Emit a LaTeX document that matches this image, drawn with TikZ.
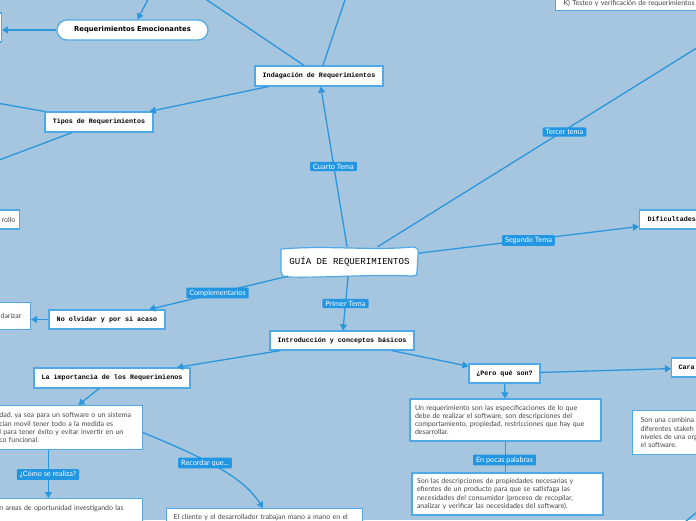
\documentclass[tikz,border=0pt]{standalone}
\usepackage{fontspec}
\setmainfont{Lato}
\setsansfont{Lato}
\setmonofont{Liberation Mono}
\newfontfamily\verdana{DejaVu Sans}
\usetikzlibrary{arrows.meta}
\definecolor{fond}{HTML}{A6C5DE}
\definecolor{trait}{HTML}{2A97DC}
\definecolor{bord}{HTML}{4EA9E6}
\definecolor{etiq}{HTML}{2196E2}
\definecolor{encre}{HTML}{444444}

\begin{document}
\begin{tikzpicture}[x=1pt, y=-1pt,
    lien/.style={draw=trait, line width=1.3pt},
    fleche/.style={lien, -{Triangle[length=6pt,width=7pt]}},
    boite/.style={draw=bord, fill=white, line width=1.2pt, text=black,
        font=\fontsize{6.7}{8}\selectfont\ttfamily\bfseries},
    texte/.style={boite, text=encre, align=left, inner ysep=4pt,
        font=\fontsize{7}{8.2}\selectfont\sffamily},
    etiquette/.style={fill=etiq, text=white, rounded corners=1pt, inner xsep=3pt, inner ysep=2pt,
        font=\fontsize{7.3}{8}\selectfont\sffamily}]

    % Cadre et fond
    \useasboundingbox (0,0) rectangle (696,520);
    \clip (0,0) rectangle (696,520);
    \fill[fond] (0,0) rectangle (696,520);

    % Forme du noeud central
    \draw[draw=bord, fill=white, line width=1.2pt]
        (281,249) .. controls (330,245) and (370,251) .. (412,247)
                  .. controls (418,247) and (419,250) .. (418,256) -- (417,272)
                  .. controls (417,276) and (415,276) .. (412,276)
                  .. controls (370,274) and (330,278) .. (288,277)
                  .. controls (283,277) and (281,275) .. (281,272) -- cycle;
    \node[minimum width=137pt, minimum height=29pt, font=\fontsize{9.1}{11}\selectfont\ttfamily] (guia) at (349.5,261.5) {GUÍA DE REQUERIMIENTOS};

    % Branche du haut
    \node[boite, rounded corners=10pt, minimum width=151pt, minimum height=20pt,
        font=\fontsize{6.8}{8}\selectfont\verdana\bfseries] (emocion) at (132.5,30) {Requerimientos Emocionantes};
    \node[boite, anchor=east, minimum width=40pt, minimum height=29pt] (gaucheHaut) at (2,27.5) {};
    \node[boite, minimum width=128pt, minimum height=20pt] (indag) at (319,76) {Indagación de Requerimientos};
    \node[boite, minimum width=108pt, minimum height=20pt] (tipos) at (99,122) {Tipos de Requerimientos};
    \node[texte, anchor=east, text width=70pt, align=right, inner xsep=4pt, minimum height=19pt] (rollo) at (20,219.5) {rollo};
    \node[texte, anchor=south west, text width=150pt, inner xsep=8pt] (testeo) at (555,11) {K) Testeo y verificación de requerimientos};
    \node[boite, anchor=west, text width=60pt, align=left, inner xsep=8pt, minimum height=19pt] (dific) at (639,219.5) {Dificultades};

    % Branche de gauche
    \node[boite, minimum width=116pt, minimum height=19pt] (noolv) at (107,319.5) {No olvidar y por si acaso};
    \node[texte, anchor=north east, text width=60pt, align=right, inner xsep=9pt, minimum height=27pt] (standar) at (31,302) {darizar};

    % Branche du bas
    \node[boite, minimum width=144pt, minimum height=19pt] (intro) at (342,340.5) {Introducción y conceptos básicos};
    \node[boite, minimum width=156pt, minimum height=20pt] (import) at (112,378) {La importancia de los Requerimienos};
    \node[texte, anchor=north east, text width=140pt, inner xsep=3pt, minimum height=44pt] (textImp) at (143,405)
        {dad, ya sea para un software o un sistema\\cian movil tener todo a la medida es\\l para tener éxito y evitar invertir en un\\co funcional.};
    \node[texte, anchor=north east, text width=140pt, inner xsep=3pt, inner ysep=7pt, text depth=22pt] (areas) at (143,498)
        {n areas de oportunidad investigando las};
    \node[texte, anchor=north west, text width=182pt, inner xsep=7pt, inner ysep=6pt, text depth=25pt] (cliente) at (166,508)
        {El cliente y el desarrollador trabajan mano a mano en el};
    \node[boite, minimum width=71pt, minimum height=19pt] (pero) at (504.5,373.5) {¿Pero qué son?};
    \node[boite, anchor=west, text width=60pt, align=left, inner xsep=7pt, minimum height=19pt] (cara) at (671,367.5) {Cara};
    \node[texte, text width=181pt, inner xsep=5pt, minimum height=42pt] (defin) at (505.5,420)
        {Un requerimiento son las especificaciones de lo que\\debe de realizar el software, son descripciones del\\comportamiento, propiedad, restricciones que hay que\\desarrollar.};
    \node[texte, text width=181pt, inner xsep=5pt, minimum height=42pt] (resume) at (507.5,494)
        {Son las descripciones de propiedades necesarias y\\efientes de un producto para que se satisfaga las\\necesidades del consumidor (proceso de recopilar,\\analizar y verificar las necesidades del software).};
    \node[texte, anchor=north west, text width=100pt, inner xsep=8pt, minimum height=44pt] (combin) at (632,410)
        {Son una combina\\diferentes stakeh\\niveles de una org\\el software.};

    % Extremites hors cadre
    \coordinate (hautA) at (158,-33);
    \coordinate (hautB) at (356,-33);
    \coordinate (hautC) at (154,-12);
    \coordinate (tipoA) at (-43,96);
    \coordinate (tipoB) at (-30,171);
    \coordinate (tercerFin) at (740,21);
    \coordinate (coinA) at (680,526);
    \coordinate (coinB) at (712,500);

    % Liens
    \draw[lien] ([xshift=-15pt]indag.north) -- (hautA);
    \draw[lien] ([xshift=4pt]indag.north) -- (hautB);
    \draw[fleche] (hautC) -- ([xshift=5pt]emocion.north);
    \draw[fleche] (emocion.west) -- (emocion.west -| gaucheHaut.east);
    \draw[fleche] (indag) -- (tipos);
    \draw[lien] (tipos.north west) -- (tipoA);
    \draw[lien] ([xshift=-27pt]tipos.south) -- (tipoB);
    \draw[fleche] (guia) -- (indag);
    \draw[lien] ([xshift=28pt]guia.north) -- (tercerFin);
    \draw[fleche] (guia) -- ([yshift=-7pt]dific.west);
    \draw[fleche] (guia) -- (noolv);
    \draw[fleche] (noolv.west) -- (noolv.west -| standar.east);
    \draw[fleche] (guia) -- (intro);
    \draw[fleche] (intro) -- (import);
    \draw[fleche] ([xshift=-13pt]import.south) -- ([xshift=9pt]textImp.north);
    \draw[fleche] ([xshift=-21pt]textImp.south) -- ([xshift=-21pt]textImp.south |- areas.north);
    \draw[fleche] ([yshift=-5pt]textImp.east) .. controls (215,462) and (245,480) .. ([xshift=97pt]cliente.north west);
    \draw[fleche] (intro) -- (pero);
    \draw[fleche] (pero) -- (cara);
    \draw[fleche] (pero) -- (defin);
    \draw[lien] (defin.south) -- (defin.south |- resume.north);
    \draw[lien] (coinA) -- (coinB);

    % Etiquettes des liens
    \node[etiquette] (cuarto) at (333.5,166.5) {Cuarto Tema};
    \node[etiquette] (tercer) at (564.5,132) {Tercer tema};
    \node[etiquette] (segundo) at (528.5,240.5) {Segundo Tema};
    \node[etiquette] (compl) at (217.5,293) {Complementarios};
    \node[etiquette] (primer) at (345.5,303.5) {Primer Tema};
    \node[etiquette] (como) at (48,474.5) {¿Cómo se realiza?};
    \node[etiquette] (recordar) at (205,463) {Recordar que...};
    \node[etiquette] (pocas) at (504.5,460) {En pocas palabras};
\end{tikzpicture}
\end{document}
